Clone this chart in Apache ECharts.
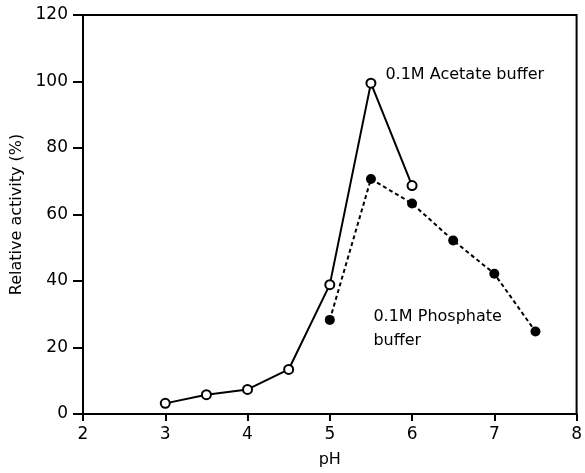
<!DOCTYPE html>
<html>
<head>
<meta charset="utf-8">
<script src="https://cdn.jsdelivr.net/npm/echarts@6/dist/echarts.min.js"></script>
<style>html,body{margin:0;padding:0;background:#fff}#c{width:585px;height:473px}</style>
</head>
<body>
<div id="c"></div>
<script>
var acetatePH = [3, 3.5, 4, 4.5, 5, 5.5, 6];
var acetateActivity = [3.2, 5.8, 7.4, 13.4, 38.9, 99.5, 68.7];
var phosphatePH = [5, 5.5, 6, 6.5, 7, 7.5];
var phosphateActivity = [28.3, 70.7, 63.3, 52.2, 42.2, 24.8];
var xTicks = [2, 3, 4, 5, 6, 7, 8];
var yTicks = [0, 20, 40, 60, 80, 100, 120];
var xName = 'pH';
var yName = 'Relative activity (%)';
var acetateLabel = '0.1M Acetate buffer';
var phosphateLabel = '0.1M Phosphate\nbuffer';

function pairs(xs, ys) { return xs.map(function (x, i) { return [x, ys[i]]; }); }

var font = 'DejaVu Sans';
var chart = echarts.init(document.getElementById('c'), null, { renderer: 'canvas' });
chart.setOption({
  animation: false,
  grid: { left: 83, right: 4, top: 15, bottom: 58, show: true, borderColor: '#000', borderWidth: 2, backgroundColor: 'transparent' },
  xAxis: {
    type: 'value', min: xTicks[0], max: xTicks[xTicks.length - 1], interval: 1,
    name: xName, nameLocation: 'middle', nameGap: 38,
    nameTextStyle: { color: '#000', fontSize: 16, fontFamily: font },
    axisLine: { lineStyle: { color: '#000', width: 2 } },
    axisTick: { show: true, length: 7, lineStyle: { color: '#000', width: 2 } },
    axisLabel: { color: '#000', fontSize: 17, fontFamily: font, margin: 12 },
    splitLine: { show: false }
  },
  yAxis: {
    type: 'value', min: yTicks[0], max: yTicks[yTicks.length - 1], interval: 20,
    name: yName, nameLocation: 'middle', nameGap: 55,
    nameTextStyle: { color: '#000', fontSize: 16, fontFamily: font },
    axisLine: { show: true, lineStyle: { color: '#000', width: 2 } },
    axisTick: { show: true, length: 10, lineStyle: { color: '#000', width: 2 } },
    axisLabel: { color: '#000', fontSize: 17, fontFamily: font, margin: 15 },
    splitLine: { show: false }
  },
  series: [
    {
      type: 'line', name: 'Acetate', data: pairs(acetatePH, acetateActivity),
      symbol: 'circle', symbolSize: 9,
      itemStyle: { color: '#fff', borderColor: '#000', borderWidth: 2 },
      lineStyle: { color: '#000', width: 2 },
      z: 3,
      markPoint: {
        symbol: 'circle', symbolSize: 1,
        itemStyle: { color: 'rgba(0,0,0,0)', borderWidth: 0 },
        data: [{ coord: [acetatePH[5], acetateActivity[5]] }],
        label: { show: true, formatter: acetateLabel, position: 'right', distance: 14, offset: [0, -8], color: '#000', fontSize: 16, fontFamily: font }
      }
    },
    {
      type: 'line', name: 'Phosphate', data: pairs(phosphatePH, phosphateActivity),
      symbol: 'circle', symbolSize: 10,
      itemStyle: { color: '#000', borderColor: '#000', borderWidth: 0 },
      lineStyle: { color: '#000', width: 2, type: [4, 3] },
      z: 2,
      markPoint: {
        symbol: 'circle', symbolSize: 1,
        itemStyle: { color: 'rgba(0,0,0,0)', borderWidth: 0 },
        data: [{ coord: [5.5, 25.6] }],
        label: { show: true, formatter: phosphateLabel, position: 'right', distance: 2, lineHeight: 24, color: '#000', fontSize: 16, fontFamily: font }
      }
    }
  ]
});
</script>
</body>
</html>
